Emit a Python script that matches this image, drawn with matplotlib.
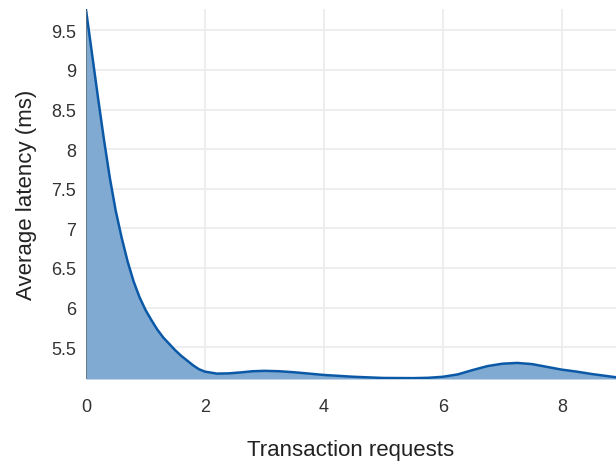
import matplotlib
matplotlib.use("Agg")
import matplotlib.pyplot as plt
from matplotlib.ticker import FuncFormatter

plt.rcParams['font.family'] = ['Liberation Sans', 'DejaVu Sans']

x_vals = [0, 0.1, 0.2, 0.3, 0.4, 0.5, 0.6, 0.7, 0.8, 0.9, 1.0, 1.1, 1.2, 1.3, 1.4,
          1.5, 1.6, 1.7, 1.8, 1.9, 2.0, 2.2, 2.4, 2.6, 2.8, 3.0, 3.25, 3.5, 3.75,
          4.0, 4.5, 5.0, 5.5, 5.75, 6.0, 6.25, 6.5, 6.75, 7.0, 7.25, 7.5, 7.75,
          8.0, 8.25, 8.5, 8.75, 9.0]
latency = [9.76, 9.21, 8.66, 8.13, 7.64, 7.22, 6.88, 6.58, 6.33, 6.13, 5.97, 5.84,
           5.72, 5.62, 5.54, 5.46, 5.39, 5.33, 5.27, 5.22, 5.19, 5.165, 5.168, 5.18,
           5.195, 5.20, 5.195, 5.182, 5.165, 5.148, 5.125, 5.11, 5.108, 5.112,
           5.125, 5.155, 5.21, 5.26, 5.29, 5.30, 5.285, 5.25, 5.215, 5.19, 5.16,
           5.135, 5.11]
x_ticks = [0, 2, 4, 6, 8]
y_ticks = [5.5, 6, 6.5, 7, 7.5, 8, 8.5, 9, 9.5]

fig = plt.figure(figsize=(6.16, 4.64), dpi=100)
ax = fig.add_axes([86/616, 1 - 380/464, 1 - 86/616, (380 - 10)/464])

ymin, ymax = 5.097, 9.77
ax.fill_between(x_vals, latency, ymin, color='#80aad2', linewidth=0, zorder=2)
ax.plot(x_vals, latency, color='#0b59a6', linewidth=1.8, zorder=3,
        solid_joinstyle='round')
ax.vlines(x_vals[0], ymin, latency[0], color='#5a6a7a', linewidth=1.2, zorder=3)

ax.set_xlim(0, 8.91)
ax.set_ylim(ymin, ymax)
ax.set_xticks(x_ticks)
ax.set_yticks(y_ticks)
ax.yaxis.set_major_formatter(FuncFormatter(lambda v, p: ('%g' % v)))
ax.grid(True, color='#ebebeb', linewidth=1.2, zorder=0)
ax.set_axisbelow(True)
for s in ax.spines.values():
    s.set_visible(False)
ax.tick_params(length=0, labelsize=13, colors='#333333')
ax.tick_params(axis='x', pad=14)
ax.tick_params(axis='y', pad=7)
ax.set_xlabel('Transaction requests', fontsize=16, color='#222222', labelpad=17)
ax.set_ylabel('Average latency (ms)', fontsize=16, color='#222222', labelpad=10)

fig.savefig('out.png', dpi=100)
